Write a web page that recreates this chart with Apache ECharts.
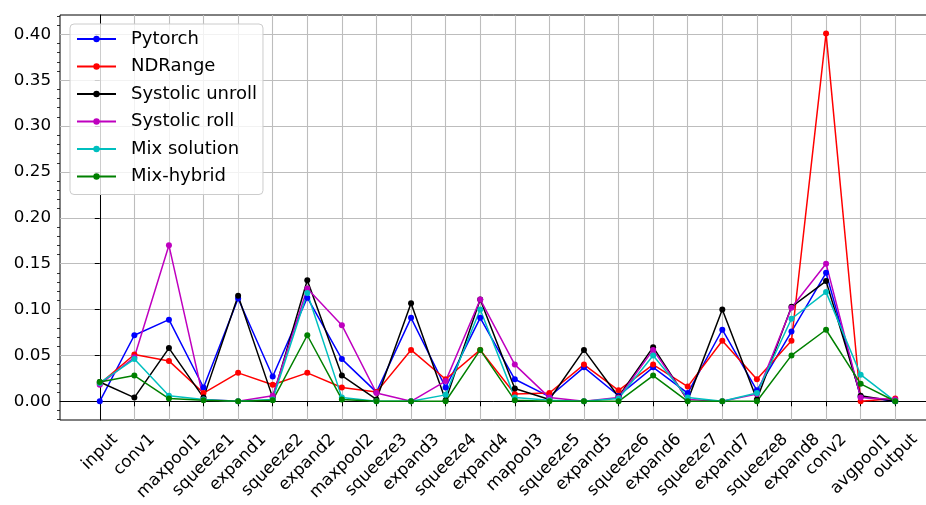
<!DOCTYPE html>
<html><head><meta charset="utf-8">
<script src="https://cdn.jsdelivr.net/npm/echarts@6/dist/echarts.min.js"></script>
<style>html,body{margin:0;padding:0;background:#fff}#c{width:926px;height:505px}</style>
</head><body><div id="c"></div>
<script>
const categories = ['input','conv1','maxpool1','squeeze1','expand1','squeeze2','expand2','maxpool2','squeeze3','expand3','squeeze4','expand4','mapool3','squeeze5','expand5','squeeze6','expand6','squeeze7','expand7','squeeze8','expand8','conv2','avgpool1','output'];
const pytorch      = [0.000,0.072,0.089,0.015,0.112,0.027,0.113,0.046,0.010,0.091,0.015,0.091,0.024,0.005,0.037,0.006,0.037,0.009,0.078,0.012,0.076,0.140,0.005,0.000];
const ndrange      = [0.019,0.051,0.044,0.009,0.031,0.018,0.031,0.015,0.010,0.056,0.024,0.056,0.008,0.009,0.040,0.012,0.040,0.016,0.066,0.024,0.066,0.401,0.000,0.003];
const sysUnroll    = [0.021,0.004,0.058,0.004,0.115,0.004,0.132,0.028,0.002,0.107,0.001,0.111,0.014,0.002,0.056,0.005,0.059,0.001,0.100,0.002,0.103,0.131,0.006,0.000];
const sysRoll      = [0.018,0.048,0.170,0.002,0.000,0.006,0.123,0.083,0.009,0.000,0.022,0.111,0.040,0.004,0.000,0.004,0.056,0.002,0.000,0.008,0.102,0.150,0.004,0.002];
const mixSolution  = [0.020,0.046,0.006,0.002,0.000,0.002,0.118,0.004,0.000,0.000,0.007,0.100,0.004,0.001,0.000,0.003,0.050,0.004,0.000,0.009,0.090,0.119,0.029,0.000];
const mixHybrid    = [0.021,0.028,0.003,0.001,0.000,0.001,0.072,0.002,0.000,0.000,0.000,0.056,0.001,0.000,0.000,0.000,0.028,0.000,0.000,0.000,0.050,0.078,0.019,0.000];
const seriesNames  = ['Pytorch','NDRange','Systolic unroll','Systolic roll','Mix solution','Mix-hybrid'];
const yTickLabels  = ['0.00','0.05','0.10','0.15','0.20','0.25','0.30','0.35','0.40'];

const FONT = 'DejaVu Sans';
const XFS = 16.7;
const colors = ['#0000ff','#ff0000','#000000','#bf00bf','#00bfbf','#008000'];
const allData = [pytorch, ndrange, sysUnroll, sysRoll, mixSolution, mixHybrid];

const X_MIN = -1.15, X_MAX = 24.15, GRID_W = 875;
const catIdx = categories.map((c,i)=>i);
const yMajor = yTickLabels.map(Number);
const yMinor = [];
for (let k = -2; k <= 42; k++) { if (k % 5 !== 0) yMinor.push(Number((k*0.01).toFixed(2))); }

// Label anchor shift: rotated label's bbox is centred on its tick (matplotlib style).
const ctx = document.createElement('canvas').getContext('2d');
ctx.font = XFS + 'px "DejaVu Sans"';
const unitPx = GRID_W / (X_MAX - X_MIN);
const labelVals = categories.map((c,i)=> i + (ctx.measureText(c).width / (2*Math.SQRT2)) / unitPx);

const chart = echarts.init(document.getElementById('c'), null, {renderer:'canvas'});
const option = {
  animation: false,
  backgroundColor: '#fff',
  grid: {left:60, top:15, width:GRID_W, height:405, outerBoundsMode:'none', containLabel:false,
         show:true, borderColor:'#000', borderWidth:1, backgroundColor:'transparent'},
  legend: {
    orient:'vertical', left:70, top:24,
    padding:[6,6,9,6], itemGap:9.5, itemWidth:39, itemHeight:8,
    backgroundColor:'rgba(255,255,255,0.8)', borderColor:'#cccccc', borderWidth:1, borderRadius:4,
    textStyle:{fontFamily:FONT, fontSize:18, color:'#000', padding:[0,0,0,10]},
    data: seriesNames
  },
  xAxis: {
    type:'value', min:X_MIN, max:X_MAX,
    axisLine:{show:true, lineStyle:{color:'#000', width:1}},
    axisTick:{show:true, customValues:catIdx, length:5, lineStyle:{color:'#000', width:1}},
    splitLine:{show:true, lineStyle:{color:'#bdbdbd', width:1.1}},
    axisLabel:{
      customValues:labelVals, rotate:45, margin:16.9, align:'right', verticalAlign:'middle',
      fontFamily:FONT, fontSize:XFS, color:'#000', hideOverlap:false,
      formatter:(v)=>{ let b=0; labelVals.forEach((t,i)=>{ if (Math.abs(t-v) < Math.abs(labelVals[b]-v)) b=i; }); return categories[b]; }
    }
  },
  yAxis: [{
    type:'value', min:-0.0204, max:0.4211, position:'left',
    axisLine:{show:true, lineStyle:{color:'#000', width:1}},
    axisTick:{show:true, customValues:yMajor, length:5, lineStyle:{color:'#000', width:1}},
    splitLine:{show:true, lineStyle:{color:'#bdbdbd', width:1.1}},
    axisLabel:{customValues:yMajor, margin:9, fontFamily:FONT, fontSize:16.7, color:'#000',
      formatter:(v)=>{ const i = yMajor.findIndex(t=>Math.abs(t-v)<1e-9); return i>=0 ? yTickLabels[i] : ''; }}
  },{
    type:'value', min:-0.0204, max:0.4211, position:'left',
    axisLine:{show:false},
    axisTick:{show:true, customValues:yMinor, length:3, lineStyle:{color:'#000', width:0.8}},
    splitLine:{show:false},
    axisLabel:{show:false}
  }],
  series: seriesNames.map((n,s)=>({
    name:n, type:'line', xAxisIndex:0, yAxisIndex:0,
    data: allData[s].map((v,i)=>[i, v]),
    symbol:'circle', symbolSize:6, showSymbol:true,
    lineStyle:{color:colors[s], width:1.5},
    itemStyle:{color:colors[s]},
    emphasis:{disabled:true}
  }))
};
chart.setOption(option);
</script>
</body></html>
